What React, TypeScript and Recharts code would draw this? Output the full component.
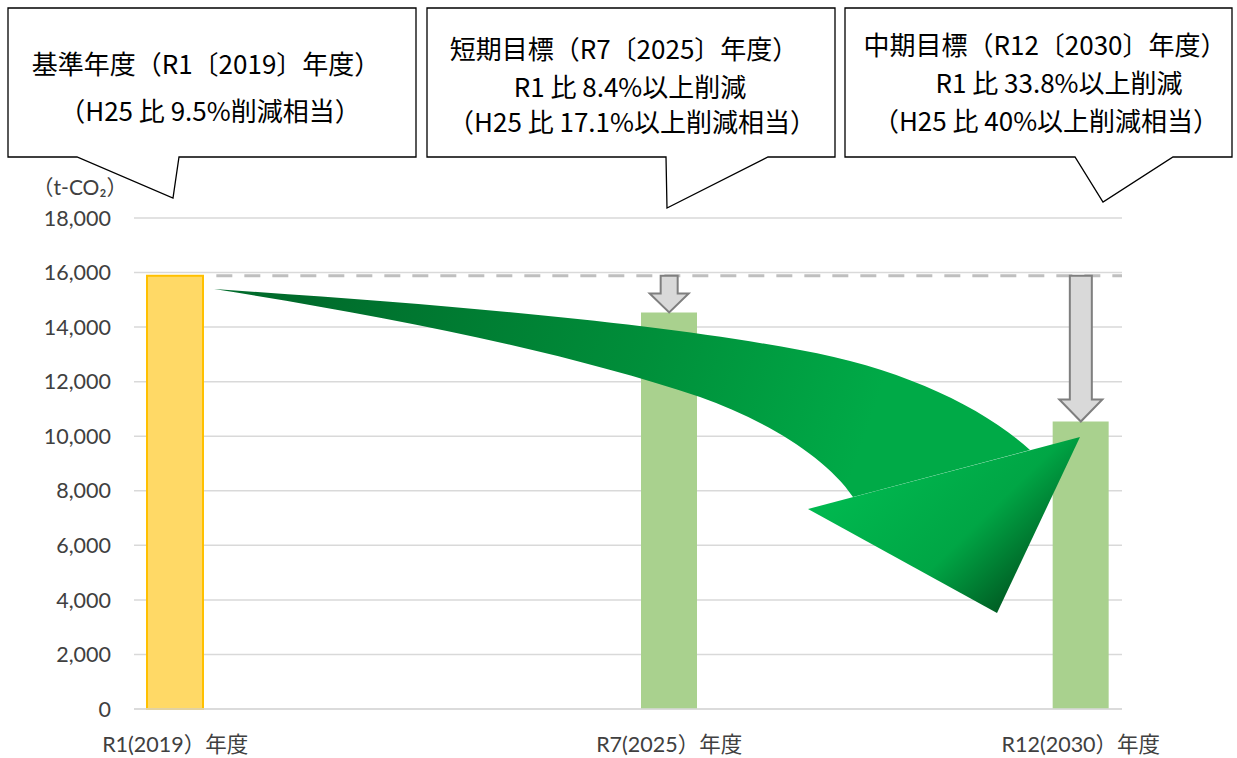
import React from 'react';
import { ComposedChart, Bar, Cell, XAxis, YAxis, CartesianGrid, ReferenceLine } from 'recharts';

// ---- data ----
const years = ['2019', '2020', '2021', '2022', '2023', '2024', '2025', '2026', '2027', '2028', '2029', '2030'];
const xLabels = ['R1(2019）年度', '', '', '', '', '', 'R7(2025）年度', '', '', '', '', 'R12(2030）年度'];
const emissions: (number | null)[] = [15880, null, null, null, null, null, 14540, null, null, null, null, 10540];
const barColors = ['#FFD966', '', '', '', '', '', '#A9D18E', '', '', '', '', '#A9D18E'];
const yTicks = [0, 2000, 4000, 6000, 8000, 10000, 12000, 14000, 16000, 18000];
const unitLabel = '（t-CO₂）';

const callout1 = ['基準年度（R1〔2019〕年度）', '（H25 比 9.5%削減相当）'];
const callout2 = ['短期目標（R7〔2025〕年度）', 'R1 比 8.4%以上削減', '（H25 比 17.1%以上削減相当）'];
const callout3 = ['中期目標（R12〔2030〕年度）', 'R1 比 33.8%以上削減', '（H25 比 40%以上削減相当）'];

const data = years.map((y, i) => ({ year: y, value: emissions[i] }));
const baseValue = emissions[0] as number;
const r7Value = emissions[6] as number;
const r12Value = emissions[11] as number;

const W = 1237;
const H = 758;
const FONT = "Lato, 'Noto Sans', 'Noto Sans CJK JP', sans-serif";
const CJK = "'Noto Sans CJK JP', sans-serif";

const makeDownArrow = (shaftW: number, headW: number, headL: number) => (props: any) => {
  const { x1, y1, y2 } = props;
  const cx = x1;
  const top = Math.min(y1, y2);
  const tip = Math.max(y1, y2);
  const hb = tip - headL;
  const d = `M${cx - shaftW / 2},${top} L${cx + shaftW / 2},${top} L${cx + shaftW / 2},${hb} L${cx + headW / 2},${hb} L${cx},${tip} L${cx - headW / 2},${hb} L${cx - shaftW / 2},${hb} Z`;
  return <path d={d} fill="#D9D9D9" stroke="#7F7F7F" strokeWidth={2} />;
};

const Callout = ({ d, lines, xs, ys, size }: { d: string; lines: string[]; xs: number[]; ys: number[]; size: number }) => (
  <g>
    <path d={d} fill="#FFFFFF" stroke="#000000" strokeWidth={1.3} />
    {lines.map((t, i) => (
      <text key={i} x={xs[i]} y={ys[i]} textAnchor="middle" dominantBaseline="central" fontFamily={CJK} fontSize={size} fill="#000000">
        {t}
      </text>
    ))}
  </g>
);

export default function App() {
  return (
    <div style={{ position: 'absolute', left: 0, top: 0, width: W, height: H, background: '#FFFFFF' }}>
      <ComposedChart width={W} height={H} data={data} margin={{ top: 218, right: 115, left: 74, bottom: 9 }}>
        <CartesianGrid vertical={false} stroke="#D9D9D9" strokeWidth={1.5} />
        <XAxis
          dataKey="year"
          interval={0}
          tickLine={false}
          axisLine={{ stroke: '#D9D9D9', strokeWidth: 1.5 }}
          tickMargin={22}
          height={40}
          tick={{ fontSize: 21.5, fill: '#404040', fontFamily: FONT }}
          tickFormatter={(v: string) => xLabels[years.indexOf(v)]}
        />
        <YAxis
          domain={[0, 18000]}
          ticks={yTicks}
          axisLine={false}
          tickLine={false}
          width={60}
          tickMargin={17}
          tick={{ fontSize: 21.5, fill: '#404040', fontFamily: FONT }}
          tickFormatter={(v: number) => v.toLocaleString('en-US')}
        />
        <Bar dataKey="value" barSize={56} isAnimationActive={false}>
          {data.map((_, i) => (
            <Cell key={i} fill={barColors[i] || '#A9D18E'} stroke={i === 0 ? '#FFC000' : 'none'} strokeWidth={i === 0 ? 2 : 0} />
          ))}
        </Bar>
        <ReferenceLine
          segment={[{ x: years[0], y: baseValue }, { x: years[11], y: baseValue }]}
          position="end"
          stroke="#BFBFBF"
          strokeWidth={3}
          strokeDasharray="16 12"
        />
        <ReferenceLine
          segment={[{ x: years[6], y: baseValue }, { x: years[6], y: r7Value }]}
          shape={makeDownArrow(17, 39, 19)}
        />
        <ReferenceLine
          segment={[{ x: years[11], y: baseValue }, { x: years[11], y: r12Value }]}
          shape={makeDownArrow(22, 43, 22)}
        />
      </ComposedChart>
      <svg width={W} height={H} style={{ position: 'absolute', left: 0, top: 0, pointerEvents: 'none' }}>
        <defs>
          <linearGradient id="bodyGrad" gradientUnits="userSpaceOnUse" x1={300} y1={290} x2={850} y2={480}>
            <stop offset="0" stopColor="#006B2B" />
            <stop offset="0.6" stopColor="#008F3A" />
            <stop offset="1" stopColor="#00AA47" />
          </linearGradient>
          <linearGradient id="headGrad" gradientUnits="userSpaceOnUse" x1={860} y1={470} x2={1000} y2={613}>
            <stop offset="0" stopColor="#00B84F" />
            <stop offset="0.6" stopColor="#00A645" />
            <stop offset="1" stopColor="#005C23" />
          </linearGradient>
        </defs>
        <path
          d="M214,289 C450,305 650,322 800,350 C900,368 980,405 1030,450 L853,497 C825,455 760,418 700,397 C560,350 380,315 214,289 Z"
          fill="url(#bodyGrad)"
        />
        <path d="M808,509 L1080,437 L997,613 Z" fill="url(#headGrad)" />
        <text x={80} y={186} textAnchor="middle" dominantBaseline="central" fontFamily={FONT} fontSize={21} fill="#404040">
          {unitLabel}
        </text>
        <Callout d="M8,8 H416 V157 H179 L173,198 L77,157 H8 Z" lines={callout1} xs={[206, 210]} ys={[62, 109]} size={26} />
        <Callout d="M427,8 H835 V157 H768 L667,208 L666,157 H427 Z" lines={callout2} xs={[624, 630, 632]} ys={[47, 85, 120]} size={26} />
        <Callout d="M845,8 H1232 V157 H1173 L1103,202 L1075,157 H845 Z" lines={callout3} xs={[1045, 1059, 1046]} ys={[43, 81, 119]} size={26} />
      </svg>
    </div>
  );
}
